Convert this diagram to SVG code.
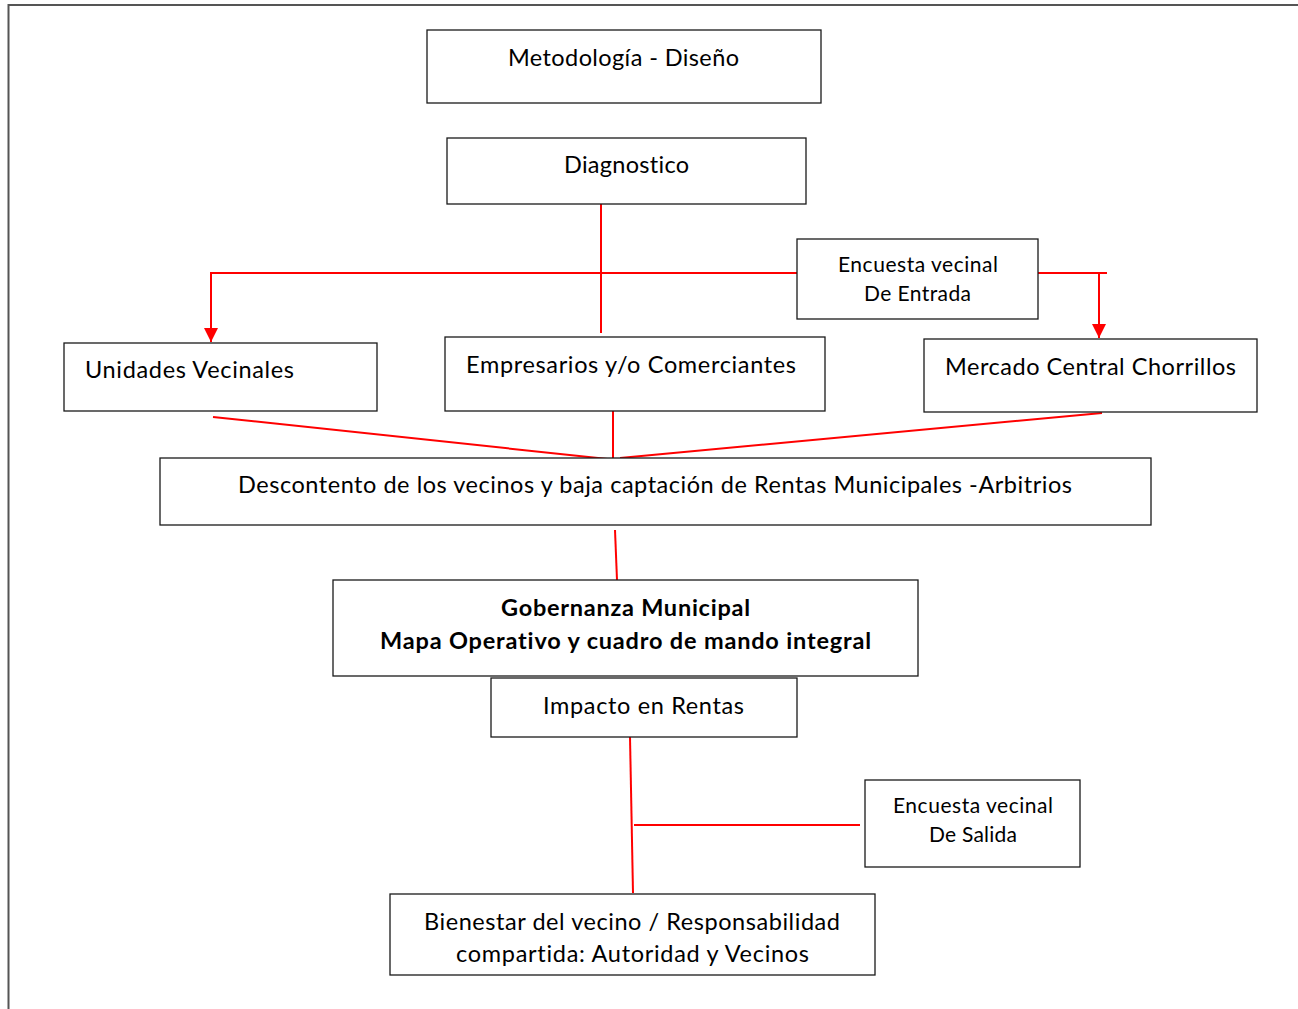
<svg xmlns="http://www.w3.org/2000/svg" width="1298" height="1009" viewBox="0 0 1298 1009">
<style>
.box{fill:#fff;stroke:#1a1a1a;stroke-width:1.3}
.t{font-family:"Lato","Open Sans",sans-serif;font-size:23.5px;fill:#000;font-variant-ligatures:none}
.s{font-size:21px}
.b{font-weight:bold}
.c{stroke:#f00;stroke-width:2;fill:none}
</style>
<defs>
<marker id="arr" markerWidth="14" markerHeight="14" refX="14" refY="7" orient="auto" markerUnits="userSpaceOnUse" viewBox="0 0 14 14">
<path d="M0,0 L14,7 L0,14 Z" fill="#f00"/>
</marker>
</defs>
<rect width="1298" height="1009" fill="#fff"/>
<path d="M8.5,1009 V5 H1298" fill="none" stroke="#555" stroke-width="2"/>
<g id="connectors">
<line class="c" x1="601" y1="200" x2="601" y2="333"/>
<line class="c" x1="210" y1="273" x2="797" y2="273"/>
<line class="c" x1="211" y1="273" x2="211" y2="342" marker-end="url(#arr)"/>
<line class="c" x1="1038" y1="273" x2="1107" y2="273"/>
<line class="c" x1="1099" y1="273" x2="1099" y2="338" marker-end="url(#arr)"/>
<line class="c" x1="213" y1="417" x2="617" y2="460"/>
<line class="c" x1="1102" y1="413" x2="620" y2="458"/>
<line class="c" x1="613" y1="411" x2="613" y2="459"/>
<line class="c" x1="615" y1="530" x2="617" y2="580"/>
<line class="c" x1="630" y1="737" x2="633" y2="893"/>
<line class="c" x1="634" y1="825" x2="860" y2="825"/>
</g>
<g id="metodologia">
<rect class="box" x="427" y="30" width="394" height="73"/>
<text class="t" x="508" y="66" textLength="231">Metodología - Diseño</text>
</g>
<g id="diagnostico">
<rect class="box" x="447" y="138" width="359" height="66"/>
<text class="t" x="564" y="173" textLength="125">Diagnostico</text>
</g>
<g id="encuesta-entrada">
<rect class="box" x="797" y="239" width="241" height="80"/>
<text class="t s" x="838" y="272" textLength="160">Encuesta vecinal</text>
<text class="t s" x="864" y="301" textLength="107">De Entrada</text>
</g>
<g id="unidades">
<rect class="box" x="64" y="343" width="313" height="68"/>
<text class="t" x="85" y="378" textLength="209">Unidades Vecinales</text>
</g>
<g id="empresarios">
<rect class="box" x="445" y="337" width="380" height="74"/>
<text class="t" x="466" y="373" textLength="330">Empresarios y/o Comerciantes</text>
</g>
<g id="mercado">
<rect class="box" x="924" y="339" width="333" height="73"/>
<text class="t" x="945" y="375" textLength="291">Mercado Central Chorrillos</text>
</g>
<g id="descontento">
<rect class="box" x="160" y="458" width="991" height="67"/>
<text class="t" x="238" y="493" textLength="834">Descontento de los vecinos y baja captación de Rentas Municipales -Arbitrios</text>
</g>
<g id="gobernanza">
<rect class="box" x="333" y="580" width="585" height="96"/>
<text class="t b" x="501" y="616" textLength="249">Gobernanza Municipal</text>
<text class="t b" x="380" y="649" textLength="491">Mapa Operativo y cuadro de mando integral</text>
</g>
<g id="impacto">
<rect class="box" x="491" y="678" width="306" height="59"/>
<text class="t" x="543" y="714" textLength="201">Impacto en Rentas</text>
</g>
<g id="encuesta-salida">
<rect class="box" x="865" y="780" width="215" height="87"/>
<text class="t s" x="893" y="813" textLength="160">Encuesta vecinal</text>
<text class="t s" x="929" y="842" textLength="88">De Salida</text>
</g>
<g id="bienestar">
<rect class="box" x="390" y="894" width="485" height="81"/>
<text class="t" x="424" y="930" textLength="416">Bienestar del vecino / Responsabilidad</text>
<text class="t" x="456" y="962" textLength="353">compartida: Autoridad y Vecinos</text>
</g>
</svg>
